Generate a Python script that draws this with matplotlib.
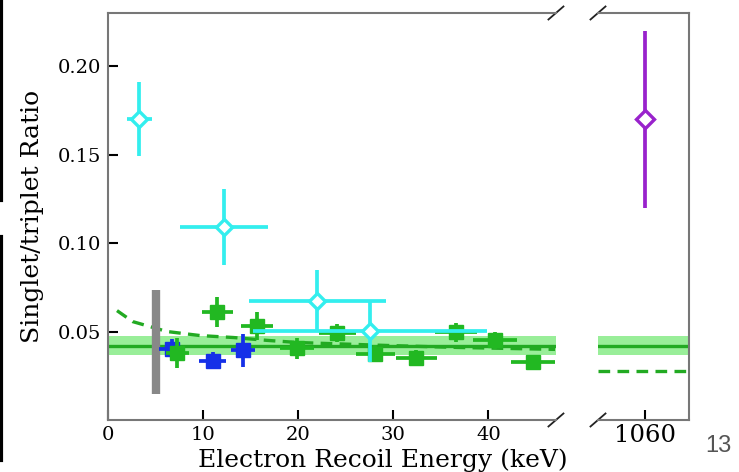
import matplotlib
matplotlib.use('Agg')
import matplotlib.pyplot as plt
from matplotlib.lines import Line2D

# green: filled squares
green_x = [7.3, 11.5, 15.7, 19.9, 24.1, 28.1, 32.4, 36.6, 40.7, 44.7]
green_y = [0.038, 0.061, 0.053, 0.0405, 0.049, 0.0375, 0.035, 0.0495, 0.045, 0.0325]
green_xerr = [1.2, 1.6, 1.7, 1.8, 1.95, 2.05, 2.15, 2.25, 2.35, 2.3]
green_yerr = [0.0085, 0.0085, 0.008, 0.006, 0.005, 0.005, 0.0045, 0.0055, 0.0047, 0.0042]

# blue: filled squares
blue_x = [6.7, 11.0, 14.2]
blue_y = [0.040, 0.0336, 0.0393]
blue_xerr = [1.3, 1.45, 1.3]
blue_yerr = [0.0056, 0.005, 0.0095]

# cyan: open diamonds
cyan_x = [3.3, 12.2, 22.0, 27.5]
cyan_y = [0.170, 0.109, 0.0675, 0.0505]
cyan_xerr = [1.3, 4.6, 7.2, 12.3]
cyan_yerr = [0.021, 0.0215, 0.0175, 0.0175]

# purple point at 1060 keV
purple_x = [1060]
purple_y = [0.17]
purple_yerr = [0.05]

# mean ratio and band
ratio_mean = 0.042
ratio_err = 0.0055
ratio_high_e = 0.0275

# dashed curve
curve_x = [0.95, 2.6, 4.4, 6.2, 9.7, 13.2, 16.7, 19.9, 22.6, 30, 36.7, 47]
curve_y = [0.0618, 0.0556, 0.0528, 0.0500, 0.0477, 0.0466, 0.0450, 0.0438, 0.0433, 0.0420, 0.0410, 0.0399]

# grey threshold bar
thr_x = 5
thr_lo, thr_hi = 0.0145, 0.0737

plt.rcParams['font.family'] = 'DejaVu Serif'

c_green = '#22b822'
c_line = '#22aa22'
c_band = '#99ee99'
c_blue = '#1530e8'
c_cyan = '#33eeee'
c_purple = '#9922cc'
c_spine = '#777777'

fig = plt.figure(figsize=(7.39, 4.72), dpi=100)
ax1 = fig.add_axes([0.1461, 0.1102, 0.6062, 0.8623])
ax2 = fig.add_axes([0.8092, 0.1102, 0.1231, 0.8623])

lw = 2.4
elw = 2.7
for ax in (ax1, ax2):
    ax.axhspan(ratio_mean - ratio_err, ratio_mean + ratio_err, color=c_band, lw=0, zorder=1)
    ax.axhline(ratio_mean, color=c_line, lw=lw, zorder=2)

ax1.plot(curve_x, curve_y, '--', color=c_line, lw=lw, dashes=(3.5, 2.2), zorder=2)
ax2.axhline(ratio_high_e, ls='--', color=c_line, lw=lw, dashes=(3.5, 2.2), zorder=2)

ax1.plot([thr_x, thr_x], [thr_lo, thr_hi], color='#888888', lw=6, solid_capstyle='butt', zorder=3)

ax1.errorbar(blue_x, blue_y, xerr=blue_xerr, yerr=blue_yerr, fmt='s', color=c_blue,
             ms=10.5, elinewidth=elw, capsize=0, zorder=4)
ax1.errorbar(green_x, green_y, xerr=green_xerr, yerr=green_yerr, fmt='s', color=c_green,
             ms=10.5, elinewidth=elw, capsize=0, zorder=5)
ax1.errorbar(cyan_x, cyan_y, xerr=cyan_xerr, yerr=cyan_yerr, fmt='D', color=c_cyan,
             mfc='white', mec=c_cyan, mew=2.4, ms=8.5, elinewidth=elw, capsize=0, zorder=6)
ax2.errorbar(purple_x, purple_y, yerr=purple_yerr, fmt='D', color=c_purple,
             mfc='white', mec=c_purple, mew=2.4, ms=9.5, elinewidth=elw, capsize=0, zorder=6)

ax1.set_xlim(0, 47.1)
ax2.set_xlim(1055.05, 1064.6)
for ax in (ax1, ax2):
    ax.set_ylim(0, 0.23)
    for s in ax.spines.values():
        s.set_color(c_spine)
        s.set_linewidth(1.5)
    ax.tick_params(direction='in', length=7, width=1.5, labelsize=14, pad=5)

ax1.spines['right'].set_visible(False)
ax2.spines['left'].set_visible(False)
ax1.set_xticks([0, 10, 20, 30, 40])
ax1.set_yticks([0.05, 0.10, 0.15, 0.20])
ax1.set_yticklabels(['0.05', '0.10', '0.15', '0.20'])
ax1.tick_params(axis='x', pad=4)
ax2.set_xticks([1060])
ax2.tick_params(axis='x', labelsize=17.5, pad=3)
ax2.set_yticks([])

# break marks, about 15 px wide and 13 px tall
kw = dict(color='#222222', lw=1.3, clip_on=False)
dx1, dy = 7.5 / 448, 6.5 / 407
ax1.plot([1 - dx1, 1 + dx1], [-dy, dy], transform=ax1.transAxes, **kw)
ax1.plot([1 - dx1, 1 + dx1], [1 - dy, 1 + dy], transform=ax1.transAxes, **kw)
dx2 = 7.5 / 91
ax2.plot([-dx2, dx2], [-dy, dy], transform=ax2.transAxes, **kw)
ax2.plot([-dx2, dx2], [1 - dy, 1 + dy], transform=ax2.transAxes, **kw)

fig.text(33 / 739, 1 - 216 / 472, 'Singlet/triplet Ratio', rotation=90,
         ha='center', va='center', fontsize=18)
fig.text(383 / 739, 1 - 460 / 472, 'Electron Recoil Energy (keV)',
         ha='center', va='center', fontsize=18)

# slide residue: page number and border lines
fig.text(718 / 739, 1 - 446 / 472, '13', fontsize=17, color='#555555',
         family='Liberation Sans', ha='center', va='center')
fig.add_artist(Line2D([0.002, 0.002], [1.0, 1 - 200 / 472], color='black', lw=3,
                      transform=fig.transFigure))
fig.add_artist(Line2D([0.002, 0.002], [1 - 237 / 472, 1 - 460 / 472], color='black', lw=3,
                      transform=fig.transFigure))

plt.savefig('out.png', dpi=100)
